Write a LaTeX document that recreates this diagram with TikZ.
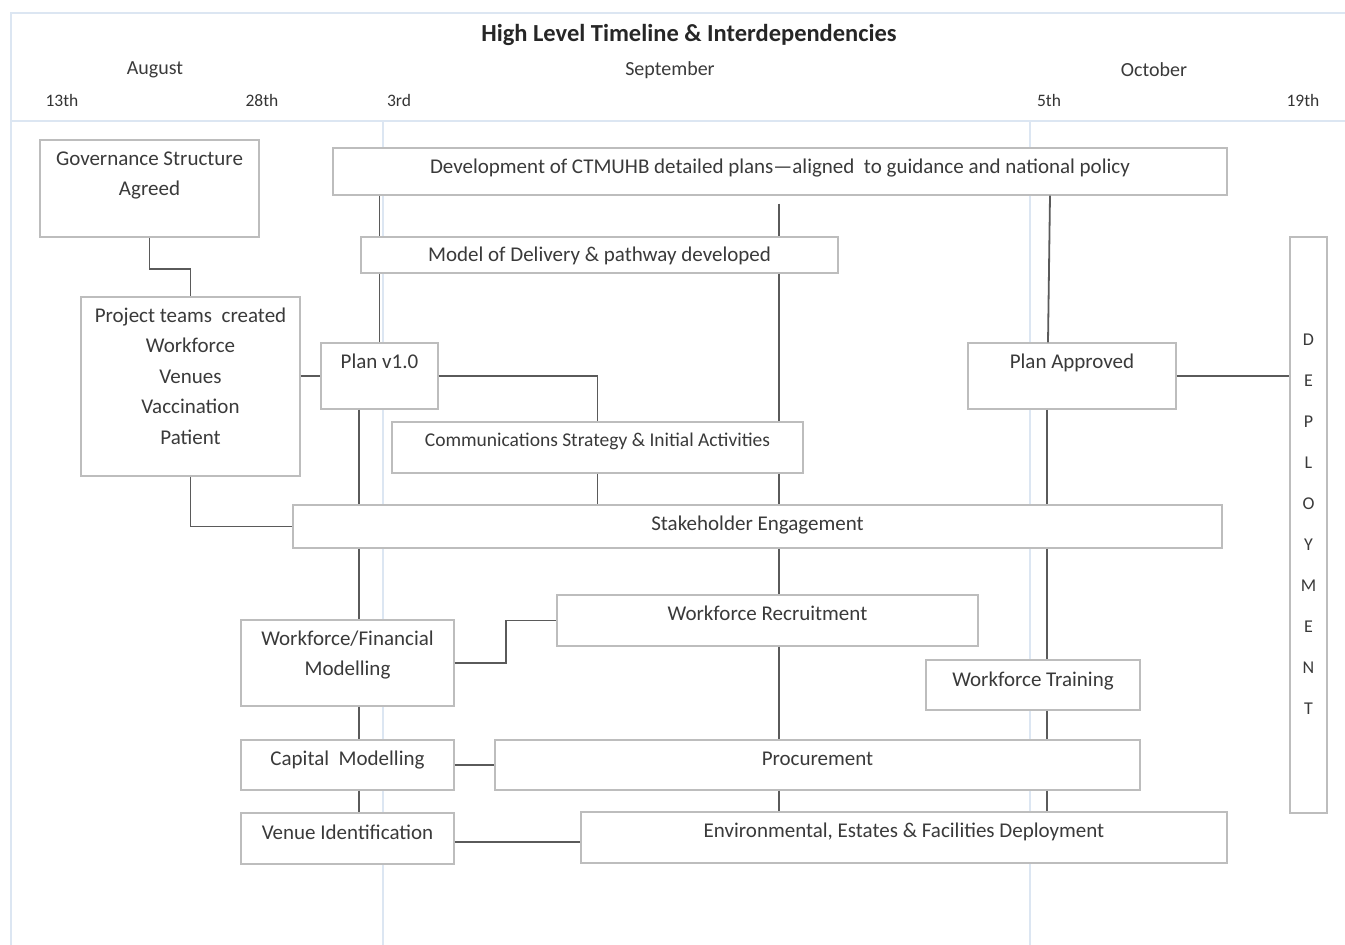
\documentclass[tikz,border=0pt]{standalone}
\usepackage{fontspec}
\setmainfont{Carlito}
\usetikzlibrary{calc}
\definecolor{boxline}{HTML}{BDBDBD}
\definecolor{conn}{HTML}{5A5A5A}
\definecolor{txt}{HTML}{3A3A3A}
\definecolor{framec}{HTML}{DCE6F2}
\newcommand{\bxt}[4]{\parbox[c][#2pt][t]{#1pt}{\centering\rule{0pt}{#3pt}#4}}
\tikzset{
  box/.style={draw=boxline, line width=1.4pt, inner sep=0pt, text=txt, fill=white,
    font=\fontsize{21}{30.5}\selectfont},
  link/.style={draw=conn, line width=1.8pt},
  framel/.style={draw=framec, line width=1.3pt},
  hdr/.style={inner sep=0pt, text=txt, font=\fontsize{20}{24}\selectfont},
  datel/.style={inner sep=0pt, text=txt!90!black, font=\fontsize{17.5}{20}\selectfont},
}
\begin{document}
\begin{tikzpicture}[x=1pt,y=-1pt]
\useasboundingbox (0,0) rectangle (1345,945);
% frame
\draw[framel] (11,945) -- (11,13) -- (1345,13);
\draw[framel] (11,121) -- (1345,121);
\draw[framel] (383,121) -- (383,945);
\draw[framel] (1030,121) -- (1030,945);
% headers
\node[inner sep=0pt, text=black!85, font=\fontsize{24.5}{28}\selectfont\bfseries] (title) at (689,35) {High Level Timeline \& Interdependencies};
\node[hdr] (aug) at (155,70) {August};
\node[hdr] (sep) at (670,70) {September};
\node[hdr] (oct) at (1154,70) {October};
\node[datel] (d13) at (62,100) {13th};
\node[datel] (d28) at (262,100) {28th};
\node[datel] (d3) at (399,100) {3rd};
\node[datel] (d5) at (1049,100) {5th};
\node[datel] (d19) at (1303,100) {19th};
% coordinates for vertical lines
\coordinate (c1) at (359,0);
\coordinate (c2) at (779,0);
\coordinate (c4) at (1047,0);
% boxes
\node[box] (gov) at (149.5,188.5) {\bxt{219}{97}{25}{Governance Structure\\Agreed}};
\node[box] (dev) at (780,171.5) {\bxt{894}{47}{25}{Development of CTMUHB detailed plans—aligned\ \ to guidance and national policy}};
\node[box] (model) at (599.5,255) {\bxt{477}{36}{24}{Model of Delivery \& pathway developed}};
\node[box] (proj) at (190.5,386.5) {\bxt{219}{179}{25}{Project teams\ \ created\\Workforce\\Venues\\Vaccination\\Patient}};
\node[box] (plan1) at (379.5,376) {\bxt{117}{66}{25}{Plan v1.0}};
\node[box] (pa) at (1072,376) {\bxt{208}{66}{25}{Plan Approved}};
\node[box, font=\fontsize{19.5}{23}\selectfont] (comms) at (597.5,447.5) {\bxt{411}{51}{24}{Communications Strategy \&\ Initial Activities}};
\node[box] (stake) at (757.5,526.5) {\bxt{929}{43}{25}{Stakeholder Engagement}};
\node[box] (wr) at (767.5,620.5) {\bxt{421}{51}{25}{Workforce Recruitment}};
\node[box] (wfm) at (347.5,663) {\bxt{213}{86}{25}{Workforce/Financial\\Modelling}};
\node[box] (wft) at (1033,685) {\bxt{214}{50}{26}{Workforce Training}};
\node[box] (cap) at (347.5,765) {\bxt{213}{50}{25}{Capital\ \ Modelling}};
\node[box] (proc) at (817.5,765) {\bxt{645}{50}{25}{Procurement}};
\node[box] (venue) at (347.5,838.5) {\bxt{213}{51}{26}{Venue Identification}};
\node[box] (env) at (904,837.5) {\bxt{646}{51}{25}{Environmental, Estates \& Facilities Deployment}};
\node[box, font=\fontsize{18}{41}\selectfont] (dep) at (1308.5,525) {\bxt{37}{576}{108}{D\\E\\P\\L\\O\\Y\\M\\E\\N\\T}};
% connectors
\draw[link] (gov.south) -- ++(0,31) -| (proj.north);
\draw[link] (plan1.west -| proj.east) -- (plan1.west);
\draw[link] (proj.south) |- (stake.west);
\draw[link] (dev.south -| plan1) -- (model.north -| plan1);
\draw[link] (model.south -| plan1) -- (plan1.north);
\draw[link] (plan1.east) -| (comms.north);
\draw[link] (comms.south) -- (stake.north -| comms.south);
\draw[link] (plan1.south -| c1) -- (stake.north -| c1);
\draw[link] (stake.south -| c1) -- (wfm.north -| c1);
\draw[link] (wfm.south -| c1) -- (cap.north -| c1);
\draw[link] (cap.south -| c1) -- (venue.north -| c1);
\draw[link, shorten <=8pt] (dev.south -| c2) -- (model.north -| c2);
\draw[link] (model.south -| c2) -- (comms.north -| c2);
\draw[link] (comms.south -| c2) -- (stake.north -| c2);
\draw[link] (stake.south -| c2) -- (wr.north -| c2);
\draw[link] (wr.south -| c2) -- (proc.north -| c2);
\draw[link] (proc.south -| c2) -- (env.north -| c2);
\draw[link] ($(dev.south -| c4)+(3,0)$) -- ($(pa.north -| c4)+(1,0)$);
\draw[link] (pa.south -| c4) -- (stake.north -| c4);
\draw[link] (stake.south -| c4) -- (wft.north -| c4);
\draw[link] (wft.south -| c4) -- (proc.north -| c4);
\draw[link] (proc.south -| c4) -- (env.north -| c4);
\draw[link] (pa.east) -- (dep.west |- pa.east);
\draw[link] (wfm.east) -- ++(51,0) |- (wr.west);
\draw[link] (cap.east) -- (proc.west |- cap.east);
\draw[link] (venue.east |- 0,842) -- (env.west |- 0,842);
\end{tikzpicture}
\end{document}
